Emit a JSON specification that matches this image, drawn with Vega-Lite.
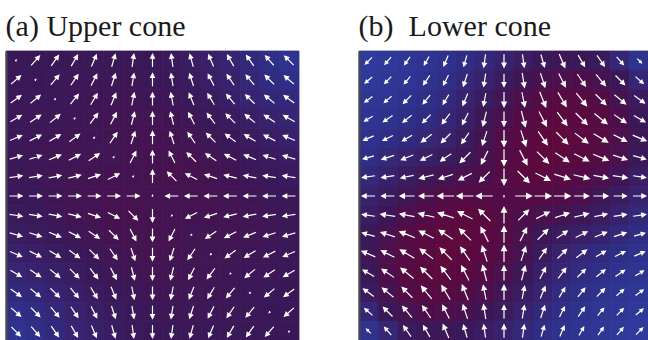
{
"$schema": "https://vega.github.io/schema/vega-lite/v6.json",
"background": "white",
"padding": {"left": 5, "top": 11, "right": 0, "bottom": 0},
"spacing": 58,
"config": {"view": {"stroke": null}},
"datasets": {"grid": [
{"r":0,"c":0,"ra":45,"ma":0.08,"za":0.45,"rb":225,"mb":0.55,"zb":0},
{"r":0,"c":1,"ra":41,"ma":0.74,"za":0.45,"rb":221,"mb":0.55,"zb":0.01},
{"r":0,"c":2,"ra":35,"ma":0.74,"za":0.45,"rb":215,"mb":0.55,"zb":0.04},
{"r":0,"c":3,"ra":30,"ma":0.74,"za":0.46,"rb":210,"mb":0.55,"zb":0.08},
{"r":0,"c":4,"ra":23,"ma":0.74,"za":0.46,"rb":203,"mb":0.65,"zb":0.12},
{"r":0,"c":5,"ra":16,"ma":0.74,"za":0.46,"rb":196,"mb":0.65,"zb":0.18},
{"r":0,"c":6,"ra":8,"ma":0.74,"za":0.46,"rb":188,"mb":0.75,"zb":0.25},
{"r":0,"c":7,"ra":0,"ma":0.74,"za":0.45,"rb":180,"mb":0.75,"zb":0.32},
{"r":0,"c":8,"ra":-8,"ma":0.74,"za":0.42,"rb":172,"mb":0.75,"zb":0.38},
{"r":0,"c":9,"ra":-16,"ma":0.74,"za":0.39,"rb":164,"mb":0.75,"zb":0.44},
{"r":0,"c":10,"ra":-23,"ma":0.74,"za":0.34,"rb":157,"mb":0.85,"zb":0.48},
{"r":0,"c":11,"ra":-30,"ma":0.74,"za":0.29,"rb":150,"mb":0.75,"zb":0.46},
{"r":0,"c":12,"ra":-35,"ma":0.74,"za":0.23,"rb":145,"mb":0.75,"zb":0.41},
{"r":0,"c":13,"ra":-41,"ma":0.74,"za":0.16,"rb":139,"mb":0.6,"zb":0.27},
{"r":0,"c":14,"ra":-45,"ma":0.74,"za":0.1,"rb":135,"mb":0.35,"zb":0.1},
{"r":1,"c":0,"ra":49,"ma":0.74,"za":0.45,"rb":229,"mb":0.55,"zb":0.01},
{"r":1,"c":1,"ra":45,"ma":0.08,"za":0.45,"rb":225,"mb":0.55,"zb":0.04},
{"r":1,"c":2,"ra":40,"ma":0.74,"za":0.46,"rb":220,"mb":0.55,"zb":0.07},
{"r":1,"c":3,"ra":34,"ma":0.74,"za":0.47,"rb":214,"mb":0.65,"zb":0.11},
{"r":1,"c":4,"ra":27,"ma":0.74,"za":0.47,"rb":207,"mb":0.65,"zb":0.17},
{"r":1,"c":5,"ra":18,"ma":0.74,"za":0.48,"rb":198,"mb":0.75,"zb":0.25},
{"r":1,"c":6,"ra":9,"ma":0.74,"za":0.48,"rb":189,"mb":0.75,"zb":0.32},
{"r":1,"c":7,"ra":0,"ma":0.74,"za":0.46,"rb":180,"mb":0.75,"zb":0.41},
{"r":1,"c":8,"ra":-9,"ma":0.74,"za":0.44,"rb":171,"mb":0.85,"zb":0.49},
{"r":1,"c":9,"ra":-18,"ma":0.74,"za":0.41,"rb":162,"mb":0.85,"zb":0.58},
{"r":1,"c":10,"ra":-27,"ma":0.74,"za":0.37,"rb":153,"mb":0.85,"zb":0.62},
{"r":1,"c":11,"ra":-34,"ma":0.74,"za":0.32,"rb":146,"mb":0.85,"zb":0.63},
{"r":1,"c":12,"ra":-40,"ma":0.74,"za":0.26,"rb":140,"mb":0.85,"zb":0.56},
{"r":1,"c":13,"ra":-45,"ma":0.74,"za":0.2,"rb":135,"mb":0.75,"zb":0.45},
{"r":1,"c":14,"ra":-49,"ma":0.74,"za":0.16,"rb":131,"mb":0.6,"zb":0.27},
{"r":2,"c":0,"ra":54,"ma":0.74,"za":0.45,"rb":234,"mb":0.55,"zb":0.04},
{"r":2,"c":1,"ra":50,"ma":0.74,"za":0.46,"rb":230,"mb":0.55,"zb":0.07},
{"r":2,"c":2,"ra":45,"ma":0.08,"za":0.46,"rb":225,"mb":0.65,"zb":0.1},
{"r":2,"c":3,"ra":39,"ma":0.74,"za":0.47,"rb":219,"mb":0.65,"zb":0.15},
{"r":2,"c":4,"ra":31,"ma":0.74,"za":0.49,"rb":211,"mb":0.65,"zb":0.22},
{"r":2,"c":5,"ra":22,"ma":0.74,"za":0.5,"rb":202,"mb":0.75,"zb":0.31},
{"r":2,"c":6,"ra":11,"ma":0.74,"za":0.5,"rb":191,"mb":0.75,"zb":0.4},
{"r":2,"c":7,"ra":0,"ma":0.74,"za":0.49,"rb":180,"mb":0.85,"zb":0.5},
{"r":2,"c":8,"ra":-11,"ma":0.74,"za":0.47,"rb":169,"mb":0.85,"zb":0.61},
{"r":2,"c":9,"ra":-22,"ma":0.74,"za":0.44,"rb":158,"mb":0.95,"zb":0.7},
{"r":2,"c":10,"ra":-31,"ma":0.74,"za":0.41,"rb":149,"mb":0.95,"zb":0.77},
{"r":2,"c":11,"ra":-39,"ma":0.74,"za":0.36,"rb":141,"mb":0.95,"zb":0.76},
{"r":2,"c":12,"ra":-45,"ma":0.74,"za":0.3,"rb":135,"mb":0.85,"zb":0.7},
{"r":2,"c":13,"ra":-50,"ma":0.74,"za":0.26,"rb":130,"mb":0.85,"zb":0.56},
{"r":2,"c":14,"ra":-54,"ma":0.74,"za":0.23,"rb":126,"mb":0.75,"zb":0.41},
{"r":3,"c":0,"ra":60,"ma":0.74,"za":0.46,"rb":240,"mb":0.55,"zb":0.08},
{"r":3,"c":1,"ra":56,"ma":0.74,"za":0.47,"rb":236,"mb":0.65,"zb":0.11},
{"r":3,"c":2,"ra":51,"ma":0.74,"za":0.47,"rb":231,"mb":0.65,"zb":0.15},
{"r":3,"c":3,"ra":45,"ma":0.08,"za":0.48,"rb":225,"mb":0.65,"zb":0.2},
{"r":3,"c":4,"ra":37,"ma":0.74,"za":0.5,"rb":217,"mb":0.75,"zb":0.27},
{"r":3,"c":5,"ra":27,"ma":0.74,"za":0.52,"rb":207,"mb":0.75,"zb":0.36},
{"r":3,"c":6,"ra":14,"ma":0.74,"za":0.52,"rb":194,"mb":0.85,"zb":0.48},
{"r":3,"c":7,"ra":0,"ma":0.74,"za":0.52,"rb":180,"mb":0.85,"zb":0.6},
{"r":3,"c":8,"ra":-14,"ma":0.74,"za":0.51,"rb":166,"mb":0.95,"zb":0.72},
{"r":3,"c":9,"ra":-27,"ma":0.74,"za":0.48,"rb":153,"mb":0.95,"zb":0.81},
{"r":3,"c":10,"ra":-37,"ma":0.74,"za":0.44,"rb":143,"mb":0.95,"zb":0.85},
{"r":3,"c":11,"ra":-45,"ma":0.74,"za":0.4,"rb":135,"mb":0.95,"zb":0.85},
{"r":3,"c":12,"ra":-51,"ma":0.74,"za":0.36,"rb":129,"mb":0.95,"zb":0.76},
{"r":3,"c":13,"ra":-56,"ma":0.74,"za":0.32,"rb":124,"mb":0.85,"zb":0.63},
{"r":3,"c":14,"ra":-60,"ma":0.74,"za":0.29,"rb":120,"mb":0.75,"zb":0.46},
{"r":4,"c":0,"ra":67,"ma":0.74,"za":0.46,"rb":247,"mb":0.65,"zb":0.12},
{"r":4,"c":1,"ra":63,"ma":0.74,"za":0.47,"rb":243,"mb":0.65,"zb":0.17},
{"r":4,"c":2,"ra":59,"ma":0.74,"za":0.49,"rb":239,"mb":0.65,"zb":0.22},
{"r":4,"c":3,"ra":53,"ma":0.74,"za":0.5,"rb":233,"mb":0.75,"zb":0.27},
{"r":4,"c":4,"ra":45,"ma":0.08,"za":0.5,"rb":225,"mb":0.75,"zb":0.32},
{"r":4,"c":5,"ra":34,"ma":0.74,"za":0.52,"rb":214,"mb":0.75,"zb":0.41},
{"r":4,"c":6,"ra":18,"ma":0.74,"za":0.54,"rb":198,"mb":0.85,"zb":0.54},
{"r":4,"c":7,"ra":0,"ma":0.74,"za":0.55,"rb":180,"mb":0.95,"zb":0.68},
{"r":4,"c":8,"ra":-18,"ma":0.74,"za":0.54,"rb":162,"mb":0.95,"zb":0.79},
{"r":4,"c":9,"ra":-34,"ma":0.74,"za":0.52,"rb":146,"mb":0.95,"zb":0.87},
{"r":4,"c":10,"ra":-45,"ma":0.74,"za":0.48,"rb":135,"mb":0.95,"zb":0.9},
{"r":4,"c":11,"ra":-53,"ma":0.74,"za":0.44,"rb":127,"mb":0.95,"zb":0.85},
{"r":4,"c":12,"ra":-59,"ma":0.74,"za":0.41,"rb":121,"mb":0.95,"zb":0.77},
{"r":4,"c":13,"ra":-63,"ma":0.74,"za":0.37,"rb":117,"mb":0.85,"zb":0.62},
{"r":4,"c":14,"ra":-67,"ma":0.74,"za":0.34,"rb":113,"mb":0.85,"zb":0.48},
{"r":5,"c":0,"ra":74,"ma":0.74,"za":0.46,"rb":254,"mb":0.65,"zb":0.18},
{"r":5,"c":1,"ra":72,"ma":0.74,"za":0.48,"rb":252,"mb":0.75,"zb":0.25},
{"r":5,"c":2,"ra":68,"ma":0.74,"za":0.5,"rb":248,"mb":0.75,"zb":0.31},
{"r":5,"c":3,"ra":63,"ma":0.74,"za":0.52,"rb":243,"mb":0.75,"zb":0.36},
{"r":5,"c":4,"ra":56,"ma":0.74,"za":0.52,"rb":236,"mb":0.75,"zb":0.41},
{"r":5,"c":5,"ra":45,"ma":0.08,"za":0.52,"rb":225,"mb":0.85,"zb":0.48},
{"r":5,"c":6,"ra":27,"ma":0.74,"za":0.55,"rb":207,"mb":0.85,"zb":0.59},
{"r":5,"c":7,"ra":0,"ma":0.74,"za":0.56,"rb":180,"mb":0.95,"zb":0.72},
{"r":5,"c":8,"ra":-27,"ma":0.74,"za":0.56,"rb":153,"mb":0.95,"zb":0.82},
{"r":5,"c":9,"ra":-45,"ma":0.74,"za":0.55,"rb":135,"mb":0.95,"zb":0.88},
{"r":5,"c":10,"ra":-56,"ma":0.74,"za":0.52,"rb":124,"mb":0.95,"zb":0.87},
{"r":5,"c":11,"ra":-63,"ma":0.74,"za":0.48,"rb":117,"mb":0.95,"zb":0.81},
{"r":5,"c":12,"ra":-68,"ma":0.74,"za":0.44,"rb":112,"mb":0.95,"zb":0.7},
{"r":5,"c":13,"ra":-72,"ma":0.74,"za":0.41,"rb":108,"mb":0.85,"zb":0.58},
{"r":5,"c":14,"ra":-74,"ma":0.74,"za":0.39,"rb":106,"mb":0.75,"zb":0.44},
{"r":6,"c":0,"ra":82,"ma":0.74,"za":0.46,"rb":262,"mb":0.75,"zb":0.25},
{"r":6,"c":1,"ra":81,"ma":0.74,"za":0.48,"rb":261,"mb":0.75,"zb":0.32},
{"r":6,"c":2,"ra":79,"ma":0.74,"za":0.5,"rb":259,"mb":0.75,"zb":0.4},
{"r":6,"c":3,"ra":76,"ma":0.74,"za":0.52,"rb":256,"mb":0.85,"zb":0.48},
{"r":6,"c":4,"ra":72,"ma":0.74,"za":0.54,"rb":252,"mb":0.85,"zb":0.54},
{"r":6,"c":5,"ra":63,"ma":0.74,"za":0.55,"rb":243,"mb":0.85,"zb":0.59},
{"r":6,"c":6,"ra":45,"ma":0.08,"za":0.54,"rb":225,"mb":0.85,"zb":0.63},
{"r":6,"c":7,"ra":0,"ma":0.74,"za":0.56,"rb":180,"mb":0.95,"zb":0.72},
{"r":6,"c":8,"ra":-45,"ma":0.74,"za":0.58,"rb":135,"mb":0.95,"zb":0.8},
{"r":6,"c":9,"ra":-63,"ma":0.74,"za":0.56,"rb":117,"mb":0.95,"zb":0.82},
{"r":6,"c":10,"ra":-72,"ma":0.74,"za":0.54,"rb":108,"mb":0.95,"zb":0.79},
{"r":6,"c":11,"ra":-76,"ma":0.74,"za":0.51,"rb":104,"mb":0.95,"zb":0.72},
{"r":6,"c":12,"ra":-79,"ma":0.74,"za":0.47,"rb":101,"mb":0.85,"zb":0.61},
{"r":6,"c":13,"ra":-81,"ma":0.74,"za":0.44,"rb":99,"mb":0.85,"zb":0.49},
{"r":6,"c":14,"ra":-82,"ma":0.74,"za":0.42,"rb":98,"mb":0.75,"zb":0.38},
{"r":7,"c":0,"ra":90,"ma":0.74,"za":0.45,"rb":270,"mb":0.75,"zb":0.32},
{"r":7,"c":1,"ra":90,"ma":0.74,"za":0.46,"rb":270,"mb":0.75,"zb":0.41},
{"r":7,"c":2,"ra":90,"ma":0.74,"za":0.49,"rb":270,"mb":0.85,"zb":0.5},
{"r":7,"c":3,"ra":90,"ma":0.74,"za":0.52,"rb":270,"mb":0.85,"zb":0.6},
{"r":7,"c":4,"ra":90,"ma":0.74,"za":0.55,"rb":270,"mb":0.95,"zb":0.68},
{"r":7,"c":5,"ra":90,"ma":0.74,"za":0.56,"rb":270,"mb":0.95,"zb":0.72},
{"r":7,"c":6,"ra":90,"ma":0.74,"za":0.56,"rb":270,"mb":0.95,"zb":0.72},
{"r":7,"c":7,"ra":0,"ma":0.08,"za":0.55,"rb":180,"mb":0.08,"zb":0.7},
{"r":7,"c":8,"ra":-90,"ma":0.74,"za":0.56,"rb":90,"mb":0.95,"zb":0.72},
{"r":7,"c":9,"ra":-90,"ma":0.74,"za":0.56,"rb":90,"mb":0.95,"zb":0.72},
{"r":7,"c":10,"ra":-90,"ma":0.74,"za":0.55,"rb":90,"mb":0.95,"zb":0.68},
{"r":7,"c":11,"ra":-90,"ma":0.74,"za":0.52,"rb":90,"mb":0.85,"zb":0.6},
{"r":7,"c":12,"ra":-90,"ma":0.74,"za":0.49,"rb":90,"mb":0.85,"zb":0.5},
{"r":7,"c":13,"ra":-90,"ma":0.74,"za":0.46,"rb":90,"mb":0.75,"zb":0.41},
{"r":7,"c":14,"ra":-90,"ma":0.74,"za":0.45,"rb":90,"mb":0.75,"zb":0.32},
{"r":8,"c":0,"ra":98,"ma":0.74,"za":0.42,"rb":278,"mb":0.75,"zb":0.38},
{"r":8,"c":1,"ra":99,"ma":0.74,"za":0.44,"rb":279,"mb":0.85,"zb":0.49},
{"r":8,"c":2,"ra":101,"ma":0.74,"za":0.47,"rb":281,"mb":0.85,"zb":0.61},
{"r":8,"c":3,"ra":104,"ma":0.74,"za":0.51,"rb":284,"mb":0.95,"zb":0.72},
{"r":8,"c":4,"ra":108,"ma":0.74,"za":0.54,"rb":288,"mb":0.95,"zb":0.79},
{"r":8,"c":5,"ra":117,"ma":0.74,"za":0.56,"rb":297,"mb":0.95,"zb":0.82},
{"r":8,"c":6,"ra":135,"ma":0.74,"za":0.58,"rb":315,"mb":0.95,"zb":0.8},
{"r":8,"c":7,"ra":180,"ma":0.74,"za":0.56,"rb":0,"mb":0.95,"zb":0.72},
{"r":8,"c":8,"ra":225,"ma":0.08,"za":0.54,"rb":45,"mb":0.85,"zb":0.63},
{"r":8,"c":9,"ra":243,"ma":0.74,"za":0.55,"rb":63,"mb":0.85,"zb":0.59},
{"r":8,"c":10,"ra":252,"ma":0.74,"za":0.54,"rb":72,"mb":0.85,"zb":0.54},
{"r":8,"c":11,"ra":256,"ma":0.74,"za":0.52,"rb":76,"mb":0.85,"zb":0.48},
{"r":8,"c":12,"ra":259,"ma":0.74,"za":0.5,"rb":79,"mb":0.75,"zb":0.4},
{"r":8,"c":13,"ra":261,"ma":0.74,"za":0.48,"rb":81,"mb":0.75,"zb":0.32},
{"r":8,"c":14,"ra":262,"ma":0.74,"za":0.46,"rb":82,"mb":0.75,"zb":0.25},
{"r":9,"c":0,"ra":106,"ma":0.74,"za":0.39,"rb":286,"mb":0.75,"zb":0.44},
{"r":9,"c":1,"ra":108,"ma":0.74,"za":0.41,"rb":288,"mb":0.85,"zb":0.58},
{"r":9,"c":2,"ra":112,"ma":0.74,"za":0.44,"rb":292,"mb":0.95,"zb":0.7},
{"r":9,"c":3,"ra":117,"ma":0.74,"za":0.48,"rb":297,"mb":0.95,"zb":0.81},
{"r":9,"c":4,"ra":124,"ma":0.74,"za":0.52,"rb":304,"mb":0.95,"zb":0.87},
{"r":9,"c":5,"ra":135,"ma":0.74,"za":0.55,"rb":315,"mb":0.95,"zb":0.88},
{"r":9,"c":6,"ra":153,"ma":0.74,"za":0.56,"rb":333,"mb":0.95,"zb":0.82},
{"r":9,"c":7,"ra":180,"ma":0.74,"za":0.56,"rb":0,"mb":0.95,"zb":0.72},
{"r":9,"c":8,"ra":207,"ma":0.74,"za":0.55,"rb":27,"mb":0.85,"zb":0.59},
{"r":9,"c":9,"ra":225,"ma":0.08,"za":0.52,"rb":45,"mb":0.85,"zb":0.48},
{"r":9,"c":10,"ra":236,"ma":0.74,"za":0.52,"rb":56,"mb":0.75,"zb":0.41},
{"r":9,"c":11,"ra":243,"ma":0.74,"za":0.52,"rb":63,"mb":0.75,"zb":0.36},
{"r":9,"c":12,"ra":248,"ma":0.74,"za":0.5,"rb":68,"mb":0.75,"zb":0.31},
{"r":9,"c":13,"ra":252,"ma":0.74,"za":0.48,"rb":72,"mb":0.75,"zb":0.25},
{"r":9,"c":14,"ra":254,"ma":0.74,"za":0.46,"rb":74,"mb":0.65,"zb":0.18},
{"r":10,"c":0,"ra":113,"ma":0.74,"za":0.34,"rb":293,"mb":0.85,"zb":0.48},
{"r":10,"c":1,"ra":117,"ma":0.74,"za":0.37,"rb":297,"mb":0.85,"zb":0.62},
{"r":10,"c":2,"ra":121,"ma":0.74,"za":0.41,"rb":301,"mb":0.95,"zb":0.77},
{"r":10,"c":3,"ra":127,"ma":0.74,"za":0.44,"rb":307,"mb":0.95,"zb":0.85},
{"r":10,"c":4,"ra":135,"ma":0.74,"za":0.48,"rb":315,"mb":0.95,"zb":0.9},
{"r":10,"c":5,"ra":146,"ma":0.74,"za":0.52,"rb":326,"mb":0.95,"zb":0.87},
{"r":10,"c":6,"ra":162,"ma":0.74,"za":0.54,"rb":342,"mb":0.95,"zb":0.79},
{"r":10,"c":7,"ra":180,"ma":0.74,"za":0.55,"rb":0,"mb":0.95,"zb":0.68},
{"r":10,"c":8,"ra":198,"ma":0.74,"za":0.54,"rb":18,"mb":0.85,"zb":0.54},
{"r":10,"c":9,"ra":214,"ma":0.74,"za":0.52,"rb":34,"mb":0.75,"zb":0.41},
{"r":10,"c":10,"ra":225,"ma":0.08,"za":0.5,"rb":45,"mb":0.75,"zb":0.32},
{"r":10,"c":11,"ra":233,"ma":0.74,"za":0.5,"rb":53,"mb":0.75,"zb":0.27},
{"r":10,"c":12,"ra":239,"ma":0.74,"za":0.49,"rb":59,"mb":0.65,"zb":0.22},
{"r":10,"c":13,"ra":243,"ma":0.74,"za":0.47,"rb":63,"mb":0.65,"zb":0.17},
{"r":10,"c":14,"ra":247,"ma":0.74,"za":0.46,"rb":67,"mb":0.65,"zb":0.12},
{"r":11,"c":0,"ra":120,"ma":0.74,"za":0.29,"rb":300,"mb":0.75,"zb":0.46},
{"r":11,"c":1,"ra":124,"ma":0.74,"za":0.32,"rb":304,"mb":0.85,"zb":0.63},
{"r":11,"c":2,"ra":129,"ma":0.74,"za":0.36,"rb":309,"mb":0.95,"zb":0.76},
{"r":11,"c":3,"ra":135,"ma":0.74,"za":0.4,"rb":315,"mb":0.95,"zb":0.85},
{"r":11,"c":4,"ra":143,"ma":0.74,"za":0.44,"rb":323,"mb":0.95,"zb":0.85},
{"r":11,"c":5,"ra":153,"ma":0.74,"za":0.48,"rb":333,"mb":0.95,"zb":0.81},
{"r":11,"c":6,"ra":166,"ma":0.74,"za":0.51,"rb":346,"mb":0.95,"zb":0.72},
{"r":11,"c":7,"ra":180,"ma":0.74,"za":0.52,"rb":0,"mb":0.85,"zb":0.6},
{"r":11,"c":8,"ra":194,"ma":0.74,"za":0.52,"rb":14,"mb":0.85,"zb":0.48},
{"r":11,"c":9,"ra":207,"ma":0.74,"za":0.52,"rb":27,"mb":0.75,"zb":0.36},
{"r":11,"c":10,"ra":217,"ma":0.74,"za":0.5,"rb":37,"mb":0.75,"zb":0.27},
{"r":11,"c":11,"ra":225,"ma":0.08,"za":0.48,"rb":45,"mb":0.65,"zb":0.2},
{"r":11,"c":12,"ra":231,"ma":0.74,"za":0.47,"rb":51,"mb":0.65,"zb":0.15},
{"r":11,"c":13,"ra":236,"ma":0.74,"za":0.47,"rb":56,"mb":0.65,"zb":0.11},
{"r":11,"c":14,"ra":240,"ma":0.74,"za":0.46,"rb":60,"mb":0.55,"zb":0.08},
{"r":12,"c":0,"ra":126,"ma":0.74,"za":0.23,"rb":306,"mb":0.75,"zb":0.41},
{"r":12,"c":1,"ra":130,"ma":0.74,"za":0.26,"rb":310,"mb":0.85,"zb":0.56},
{"r":12,"c":2,"ra":135,"ma":0.74,"za":0.3,"rb":315,"mb":0.85,"zb":0.7},
{"r":12,"c":3,"ra":141,"ma":0.74,"za":0.36,"rb":321,"mb":0.95,"zb":0.76},
{"r":12,"c":4,"ra":149,"ma":0.74,"za":0.41,"rb":329,"mb":0.95,"zb":0.77},
{"r":12,"c":5,"ra":158,"ma":0.74,"za":0.44,"rb":338,"mb":0.95,"zb":0.7},
{"r":12,"c":6,"ra":169,"ma":0.74,"za":0.47,"rb":349,"mb":0.85,"zb":0.61},
{"r":12,"c":7,"ra":180,"ma":0.74,"za":0.49,"rb":0,"mb":0.85,"zb":0.5},
{"r":12,"c":8,"ra":191,"ma":0.74,"za":0.5,"rb":11,"mb":0.75,"zb":0.4},
{"r":12,"c":9,"ra":202,"ma":0.74,"za":0.5,"rb":22,"mb":0.75,"zb":0.31},
{"r":12,"c":10,"ra":211,"ma":0.74,"za":0.49,"rb":31,"mb":0.65,"zb":0.22},
{"r":12,"c":11,"ra":219,"ma":0.74,"za":0.47,"rb":39,"mb":0.65,"zb":0.15},
{"r":12,"c":12,"ra":225,"ma":0.08,"za":0.46,"rb":45,"mb":0.65,"zb":0.1},
{"r":12,"c":13,"ra":230,"ma":0.74,"za":0.46,"rb":50,"mb":0.55,"zb":0.07},
{"r":12,"c":14,"ra":234,"ma":0.74,"za":0.45,"rb":54,"mb":0.55,"zb":0.04},
{"r":13,"c":0,"ra":131,"ma":0.74,"za":0.16,"rb":311,"mb":0.6,"zb":0.27},
{"r":13,"c":1,"ra":135,"ma":0.74,"za":0.2,"rb":315,"mb":0.75,"zb":0.45},
{"r":13,"c":2,"ra":140,"ma":0.74,"za":0.26,"rb":320,"mb":0.85,"zb":0.56},
{"r":13,"c":3,"ra":146,"ma":0.74,"za":0.32,"rb":326,"mb":0.85,"zb":0.63},
{"r":13,"c":4,"ra":153,"ma":0.74,"za":0.37,"rb":333,"mb":0.85,"zb":0.62},
{"r":13,"c":5,"ra":162,"ma":0.74,"za":0.41,"rb":342,"mb":0.85,"zb":0.58},
{"r":13,"c":6,"ra":171,"ma":0.74,"za":0.44,"rb":351,"mb":0.85,"zb":0.49},
{"r":13,"c":7,"ra":180,"ma":0.74,"za":0.46,"rb":0,"mb":0.75,"zb":0.41},
{"r":13,"c":8,"ra":189,"ma":0.74,"za":0.48,"rb":9,"mb":0.75,"zb":0.32},
{"r":13,"c":9,"ra":198,"ma":0.74,"za":0.48,"rb":18,"mb":0.75,"zb":0.25},
{"r":13,"c":10,"ra":207,"ma":0.74,"za":0.47,"rb":27,"mb":0.65,"zb":0.17},
{"r":13,"c":11,"ra":214,"ma":0.74,"za":0.47,"rb":34,"mb":0.65,"zb":0.11},
{"r":13,"c":12,"ra":220,"ma":0.74,"za":0.46,"rb":40,"mb":0.55,"zb":0.07},
{"r":13,"c":13,"ra":225,"ma":0.08,"za":0.45,"rb":45,"mb":0.55,"zb":0.04},
{"r":13,"c":14,"ra":229,"ma":0.74,"za":0.45,"rb":49,"mb":0.55,"zb":0.01},
{"r":14,"c":0,"ra":135,"ma":0.74,"za":0.1,"rb":315,"mb":0.35,"zb":0.1},
{"r":14,"c":1,"ra":139,"ma":0.74,"za":0.16,"rb":319,"mb":0.6,"zb":0.27},
{"r":14,"c":2,"ra":145,"ma":0.74,"za":0.23,"rb":325,"mb":0.75,"zb":0.41},
{"r":14,"c":3,"ra":150,"ma":0.74,"za":0.29,"rb":330,"mb":0.75,"zb":0.46},
{"r":14,"c":4,"ra":157,"ma":0.74,"za":0.34,"rb":337,"mb":0.85,"zb":0.48},
{"r":14,"c":5,"ra":164,"ma":0.74,"za":0.39,"rb":344,"mb":0.75,"zb":0.44},
{"r":14,"c":6,"ra":172,"ma":0.74,"za":0.42,"rb":352,"mb":0.75,"zb":0.38},
{"r":14,"c":7,"ra":180,"ma":0.74,"za":0.45,"rb":0,"mb":0.75,"zb":0.32},
{"r":14,"c":8,"ra":188,"ma":0.74,"za":0.46,"rb":8,"mb":0.75,"zb":0.25},
{"r":14,"c":9,"ra":196,"ma":0.74,"za":0.46,"rb":16,"mb":0.65,"zb":0.18},
{"r":14,"c":10,"ra":203,"ma":0.74,"za":0.46,"rb":23,"mb":0.65,"zb":0.12},
{"r":14,"c":11,"ra":210,"ma":0.74,"za":0.46,"rb":30,"mb":0.55,"zb":0.08},
{"r":14,"c":12,"ra":215,"ma":0.74,"za":0.45,"rb":35,"mb":0.55,"zb":0.04},
{"r":14,"c":13,"ra":221,"ma":0.74,"za":0.45,"rb":41,"mb":0.55,"zb":0.01},
{"r":14,"c":14,"ra":225,"ma":0.08,"za":0.45,"rb":45,"mb":0.55,"zb":0}
]},
"hconcat": [
{
 "width": 293, "height": 290,
 "title": {"text": "(a) Upper cone", "anchor": "start", "font": "Liberation Serif", "fontSize": 30, "fontWeight": "normal", "color": "#1a1a1a", "offset": 9},
 "data": {"name": "grid"},
 "encoding": {
  "x": {"field": "c", "type": "ordinal", "axis": null, "scale": {"paddingInner": 0, "paddingOuter": 0}},
  "y": {"field": "r", "type": "ordinal", "axis": {"labels": false, "ticks": false, "title": null, "grid": false, "domainColor": "#4a4a4a", "domainWidth": 2}, "scale": {"paddingInner": 0, "paddingOuter": 0}}
 },
 "layer": [
  {"mark": {"type": "rect", "strokeWidth": 0.8},
   "encoding": {
    "fill": {"field": "za", "type": "quantitative", "legend": null, "scale": {"domain": [0, 0.2, 0.45, 0.7, 0.9], "range": ["#2f3a9a", "#2f2c82", "#3a1858", "#520c46", "#5e0a3c"], "clamp": true}},
    "stroke": {"field": "za", "type": "quantitative", "legend": null, "scale": {"domain": [0, 0.2, 0.45, 0.7, 0.9], "range": ["#2f3a9a", "#2f2c82", "#3a1858", "#520c46", "#5e0a3c"], "clamp": true}}
   }},
  {"mark": {"type": "point", "shape": "M0,1L0,-0.5M-0.3,-0.4L0,-1L0.3,-0.4Z", "filled": true, "fill": "white", "stroke": "white", "strokeWidth": 1.2, "opacity": 1},
   "encoding": {
    "angle": {"field": "ra", "type": "quantitative", "scale": null},
    "size": {"field": "ma", "type": "quantitative", "legend": null, "scale": {"type": "pow", "exponent": 2, "domain": [0, 1], "range": [0, 289]}}
   }}
 ]
},
{
 "width": 290, "height": 290,
 "title": {"text": "(b)\u00a0\u00a0Lower cone", "anchor": "start", "font": "Liberation Serif", "fontSize": 30, "fontWeight": "normal", "color": "#1a1a1a", "offset": 9},
 "data": {"name": "grid"},
 "encoding": {
  "x": {"field": "c", "type": "ordinal", "axis": null, "scale": {"paddingInner": 0, "paddingOuter": 0}},
  "y": {"field": "r", "type": "ordinal", "axis": {"labels": false, "ticks": false, "title": null, "grid": false, "domainColor": "#4a4a4a", "domainWidth": 2}, "scale": {"paddingInner": 0, "paddingOuter": 0}}
 },
 "layer": [
  {"mark": {"type": "rect", "strokeWidth": 0.8},
   "encoding": {
    "fill": {"field": "zb", "type": "quantitative", "legend": null, "scale": {"domain": [0, 0.2, 0.45, 0.7, 0.9], "range": ["#2f3a9a", "#2f2c82", "#3a1858", "#520c46", "#5e0a3c"], "clamp": true}},
    "stroke": {"field": "zb", "type": "quantitative", "legend": null, "scale": {"domain": [0, 0.2, 0.45, 0.7, 0.9], "range": ["#2f3a9a", "#2f2c82", "#3a1858", "#520c46", "#5e0a3c"], "clamp": true}}
   }},
  {"mark": {"type": "point", "shape": "M0,1L0,-0.5M-0.3,-0.4L0,-1L0.3,-0.4Z", "filled": true, "fill": "white", "stroke": "white", "strokeWidth": 1.2, "opacity": 1},
   "encoding": {
    "angle": {"field": "rb", "type": "quantitative", "scale": null},
    "size": {"field": "mb", "type": "quantitative", "legend": null, "scale": {"type": "pow", "exponent": 2, "domain": [0, 1], "range": [0, 289]}}
   }}
 ]
}
]
}
